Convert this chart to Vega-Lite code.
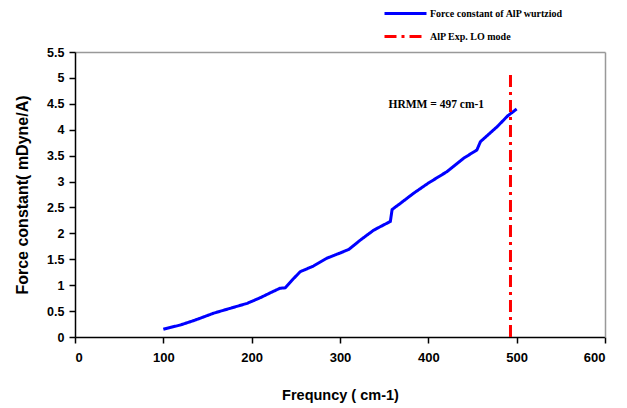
{
  "$schema": "https://vega.github.io/schema/vega-lite/v6.json",
  "width": 530,
  "height": 285,
  "autosize": "none",
  "padding": {"left": 75, "top": 52, "right": 22, "bottom": 71},
  "background": "white",
  "config": {
    "font": "Liberation Sans",
    "view": {"stroke": null}
  },
  "resolve": {"axis": {"x": "independent", "y": "independent"}},
  "layer": [
    {
      "data": {"values": [
        {"f": 100, "k": 0.15, "s": "Force constant of AlP wurtziod"},
        {"f": 102, "k": 0.16, "s": "Force constant of AlP wurtziod"},
        {"f": 119, "k": 0.23, "s": "Force constant of AlP wurtziod"},
        {"f": 135, "k": 0.32, "s": "Force constant of AlP wurtziod"},
        {"f": 157, "k": 0.46, "s": "Force constant of AlP wurtziod"},
        {"f": 175, "k": 0.55, "s": "Force constant of AlP wurtziod"},
        {"f": 195, "k": 0.65, "s": "Force constant of AlP wurtziod"},
        {"f": 210, "k": 0.76, "s": "Force constant of AlP wurtziod"},
        {"f": 222, "k": 0.86, "s": "Force constant of AlP wurtziod"},
        {"f": 232, "k": 0.94, "s": "Force constant of AlP wurtziod"},
        {"f": 238, "k": 0.95, "s": "Force constant of AlP wurtziod"},
        {"f": 247, "k": 1.12, "s": "Force constant of AlP wurtziod"},
        {"f": 255, "k": 1.26, "s": "Force constant of AlP wurtziod"},
        {"f": 270, "k": 1.37, "s": "Force constant of AlP wurtziod"},
        {"f": 285, "k": 1.52, "s": "Force constant of AlP wurtziod"},
        {"f": 300, "k": 1.62, "s": "Force constant of AlP wurtziod"},
        {"f": 310, "k": 1.69, "s": "Force constant of AlP wurtziod"},
        {"f": 323, "k": 1.87, "s": "Force constant of AlP wurtziod"},
        {"f": 338, "k": 2.06, "s": "Force constant of AlP wurtziod"},
        {"f": 348, "k": 2.15, "s": "Force constant of AlP wurtziod"},
        {"f": 357, "k": 2.23, "s": "Force constant of AlP wurtziod"},
        {"f": 359, "k": 2.46, "s": "Force constant of AlP wurtziod"},
        {"f": 370, "k": 2.6, "s": "Force constant of AlP wurtziod"},
        {"f": 383, "k": 2.77, "s": "Force constant of AlP wurtziod"},
        {"f": 400, "k": 2.97, "s": "Force constant of AlP wurtziod"},
        {"f": 421, "k": 3.19, "s": "Force constant of AlP wurtziod"},
        {"f": 440, "k": 3.45, "s": "Force constant of AlP wurtziod"},
        {"f": 455, "k": 3.61, "s": "Force constant of AlP wurtziod"},
        {"f": 459, "k": 3.77, "s": "Force constant of AlP wurtziod"},
        {"f": 478, "k": 4.06, "s": "Force constant of AlP wurtziod"},
        {"f": 490, "k": 4.27, "s": "Force constant of AlP wurtziod"},
        {"f": 500, "k": 4.4, "s": "Force constant of AlP wurtziod"}
      ]},
      "mark": {"type": "line", "strokeWidth": 3},
      "encoding": {
        "x": {"field": "f", "type": "quantitative",
          "scale": {"domain": [0, 600], "nice": false},
          "axis": {"values": [0, 100, 200, 300, 400, 500, 600], "grid": false, "title": "Frequncy ( cm-1)", "labelOverlap": false,
            "domainColor": "black", "domainWidth": 1.5, "tickColor": "black", "tickSize": 6, "tickWidth": 1.5,
            "labelFont": "Liberation Sans", "labelFontWeight": "bold", "labelFontSize": 13, "labelColor": "black", "labelPadding": 8,
            "titleFont": "Liberation Sans", "titleFontWeight": "bold", "titleFontSize": 14.5, "titleColor": "black", "titlePadding": 24}},
        "y": {"field": "k", "type": "quantitative",
          "scale": {"domain": [0, 5.5], "nice": false},
          "axis": {"values": [0, 0.5, 1, 1.5, 2, 2.5, 3, 3.5, 4, 4.5, 5, 5.5], "format": "~g", "grid": false, "title": "Force constant( mDyne/A)", "labelOverlap": false,
            "domainColor": "black", "domainWidth": 1.5, "tickColor": "black", "tickSize": 6, "tickWidth": 1.5,
            "labelFont": "Liberation Sans", "labelFontWeight": "bold", "labelFontSize": 12.5, "labelColor": "black", "labelPadding": 5,
            "titleFont": "Liberation Sans", "titleFontWeight": "bold", "titleFontSize": 16, "titleColor": "black", "titlePadding": 16}},
        "color": {"field": "s", "type": "nominal",
          "scale": {"domain": ["Force constant of AlP wurtziod", "AlP Exp. LO mode"], "range": ["#0000ff", "#ff0000"]},
          "legend": {"orient": "none", "legendX": 315, "legendY": -54, "title": null, "symbolType": "M-1.5,0H1.5", "symbolSize": 784,
            "symbolStrokeWidth": 3, "labelFont": "Liberation Serif", "labelFontWeight": "bold", "labelFontSize": 10, "labelColor": "black",
            "rowPadding": 1, "labelOffset": 9}},
        "strokeDash": {"field": "s", "type": "nominal",
          "scale": {"domain": ["Force constant of AlP wurtziod", "AlP Exp. LO mode"], "range": [[1, 0], [12, 5, 3, 5]]},
          "legend": null}
      }
    },
    {
      "data": {"values": [{"f": 493, "k": 0, "k2": 5.06, "s": "AlP Exp. LO mode"}]},
      "mark": {"type": "rule", "strokeWidth": 3},
      "encoding": {
        "x": {"field": "f", "type": "quantitative",
          "axis": {"orient": "top", "title": null, "labels": false, "ticks": false, "grid": false, "domainColor": "#999999", "domainWidth": 1.5}},
        "y": {"field": "k", "type": "quantitative",
          "axis": {"orient": "right", "title": null, "labels": false, "ticks": false, "grid": false, "domainColor": "#999999", "domainWidth": 1.5}},
        "y2": {"field": "k2"},
        "color": {"field": "s", "type": "nominal"},
        "strokeDash": {"field": "s", "type": "nominal"}
      }
    },
    {
      "data": {"values": [{"f": 409, "k": 4.48, "t": "HRMM = 497 cm-1"}]},
      "mark": {"type": "text", "font": "Liberation Serif", "fontWeight": "bold", "fontSize": 11.5, "color": "black"},
      "encoding": {
        "x": {"field": "f", "type": "quantitative", "axis": null},
        "y": {"field": "k", "type": "quantitative", "axis": null},
        "text": {"field": "t"}
      }
    }
  ]
}
